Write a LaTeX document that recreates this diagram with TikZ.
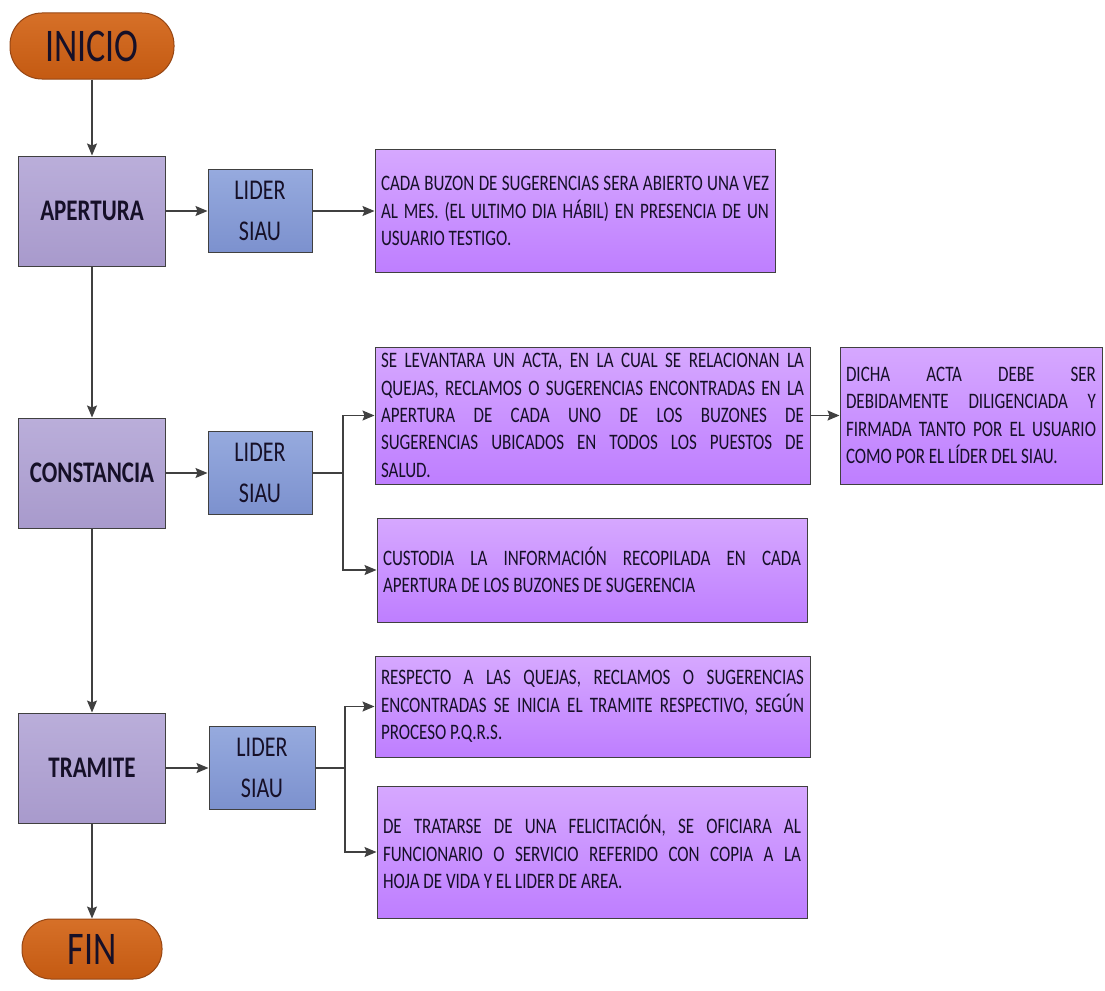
\documentclass[tikz,border=0pt]{standalone}
\usepackage{fontspec}
\setmainfont{Carlito}
\usepackage{graphicx}
\usetikzlibrary{arrows.meta}
\definecolor{naranja}{RGB}{196,90,18}
\definecolor{naranjaClaro}{RGB}{214,112,40}
\definecolor{naranjaBorde}{RGB}{150,70,20}
\definecolor{lila}{RGB}{168,154,204}
\definecolor{lilaClaro}{RGB}{186,174,218}
\definecolor{azul}{RGB}{124,145,206}
\definecolor{azulClaro}{RGB}{150,170,222}
\definecolor{morado}{RGB}{190,126,255}
\definecolor{moradoClaro}{RGB}{214,168,255}
\definecolor{borde}{RGB}{64,64,64}
\definecolor{texto}{RGB}{22,16,40}
\newcommand{\alto}[1]{\scalebox{1}[1.3]{#1}}
\tikzstyle{terminal} = [draw=naranjaBorde,line width=1pt,top color=naranjaClaro,bottom color=naranja,rounded corners=32pt,minimum width=164pt,minimum height=66pt,inner sep=0pt,text=texto,font=\fontsize{36}{40}\selectfont]
\tikzstyle{etapa} = [draw=borde,line width=1pt,top color=lilaClaro,bottom color=lila,minimum width=147pt,minimum height=110pt,inner sep=0pt,text=texto,font=\fontsize{23}{28}\selectfont\bfseries]
\tikzstyle{lider} = [draw=borde,line width=1pt,top color=azulClaro,bottom color=azul,minimum width=104pt,minimum height=83pt,inner sep=0pt,text=texto,font=\fontsize{22}{31}\selectfont]
\tikzstyle{nota} = [draw=borde,line width=1pt,top color=moradoClaro,bottom color=morado,inner sep=0pt,text=texto,font=\fontsize{17}{21}\selectfont]
\tikzstyle{edge} = [-{Stealth[length=12pt,width=10pt,inset=2pt]},line width=1.2pt,draw=borde]

\begin{document}
\begin{tikzpicture}[x=1pt,y=-1pt]
\useasboundingbox (0,0) rectangle (1105,990);

\node[terminal] (inicio) at (92,46) {\alto{INICIO}};
\node[etapa] (apertura) at (92,211) {\alto{APERTURA}};
\node[etapa] (constancia) at (92,473) {\alto{CONSTANCIA}};
\node[etapa] (tramite) at (92,768) {\alto{TRAMITE}};
\node[terminal,minimum width=140pt,minimum height=60pt,rounded corners=29pt] (fin) at (92,949) {\alto{FIN}};

\node[lider] (lider1) at (260,211) {\alto{\parbox{100pt}{\centering LIDER\\SIAU}}};
\node[lider] (lider2) at (260,473) {\alto{\parbox{100pt}{\centering LIDER\\SIAU}}};
\node[lider,minimum width=106pt] (lider3) at (262,768) {\alto{\parbox{100pt}{\centering LIDER\\SIAU}}};

\node[nota,minimum width=400pt,minimum height=123pt] (nota1) at (575,211) {\alto{\parbox{388pt}{CADA BUZON DE SUGERENCIAS SERA ABIERTO UNA VEZ\linebreak AL MES. (EL ULTIMO DIA HÁBIL) EN PRESENCIA DE UN\linebreak USUARIO TESTIGO.}}};
\node[nota,minimum width=435pt,minimum height=137pt] (nota2) at (592.5,415.5) {\alto{\parbox{423pt}{SE LEVANTARA UN ACTA, EN LA CUAL SE RELACIONAN LA\linebreak QUEJAS, RECLAMOS O SUGERENCIAS ENCONTRADAS EN LA\linebreak APERTURA DE CADA UNO DE LOS BUZONES DE\linebreak SUGERENCIAS UBICADOS EN TODOS LOS PUESTOS DE\linebreak SALUD.}}};
\node[nota,minimum width=430pt,minimum height=104pt] (nota3) at (592,570) {\alto{\parbox{418pt}{CUSTODIA LA INFORMACIÓN RECOPILADA EN CADA\linebreak APERTURA DE LOS BUZONES DE SUGERENCIA}}};
\node[nota,minimum width=262pt,minimum height=137pt] (nota4) at (971,415.5) {\alto{\parbox{250pt}{DICHA ACTA DEBE SER\linebreak DEBIDAMENTE DILIGENCIADA Y\linebreak FIRMADA TANTO POR EL USUARIO\linebreak COMO POR EL LÍDER DEL SIAU.}}};
\node[nota,minimum width=435pt,minimum height=101pt] (nota5) at (592.5,706.5) {\alto{\parbox{423pt}{RESPECTO A LAS QUEJAS, RECLAMOS O SUGERENCIAS\linebreak ENCONTRADAS SE INICIA EL TRAMITE RESPECTIVO, SEGÚN\linebreak PROCESO P.Q.R.S.}}};
\node[nota,minimum width=430pt,minimum height=132pt] (nota6) at (592,852) {\alto{\parbox{418pt}{DE TRATARSE DE UNA FELICITACIÓN, SE OFICIARA AL\linebreak FUNCIONARIO O SERVICIO REFERIDO CON COPIA A LA\linebreak HOJA DE VIDA Y EL LIDER DE AREA.}}};

\coordinate (rama2) at (343,473);
\coordinate (rama3) at (345,768);

\draw[edge] (inicio) -- (apertura);
\draw[edge] (apertura) -- (constancia);
\draw[edge] (constancia) -- (tramite);
\draw[edge] (tramite) -- (fin);
\draw[edge] (apertura) -- (lider1);
\draw[edge] (lider1) -- (nota1);
\draw[edge] (constancia) -- (lider2);
\draw[edge] (lider2) -- (rama2) |- (nota2);
\draw[edge] (rama2) |- (nota3);
\draw[edge] (nota2) -- (nota4);
\draw[edge] (tramite) -- (lider3);
\draw[edge] (lider3) -- (rama3) |- (nota5);
\draw[edge] (rama3) |- (nota6);
\end{tikzpicture}
\end{document}
